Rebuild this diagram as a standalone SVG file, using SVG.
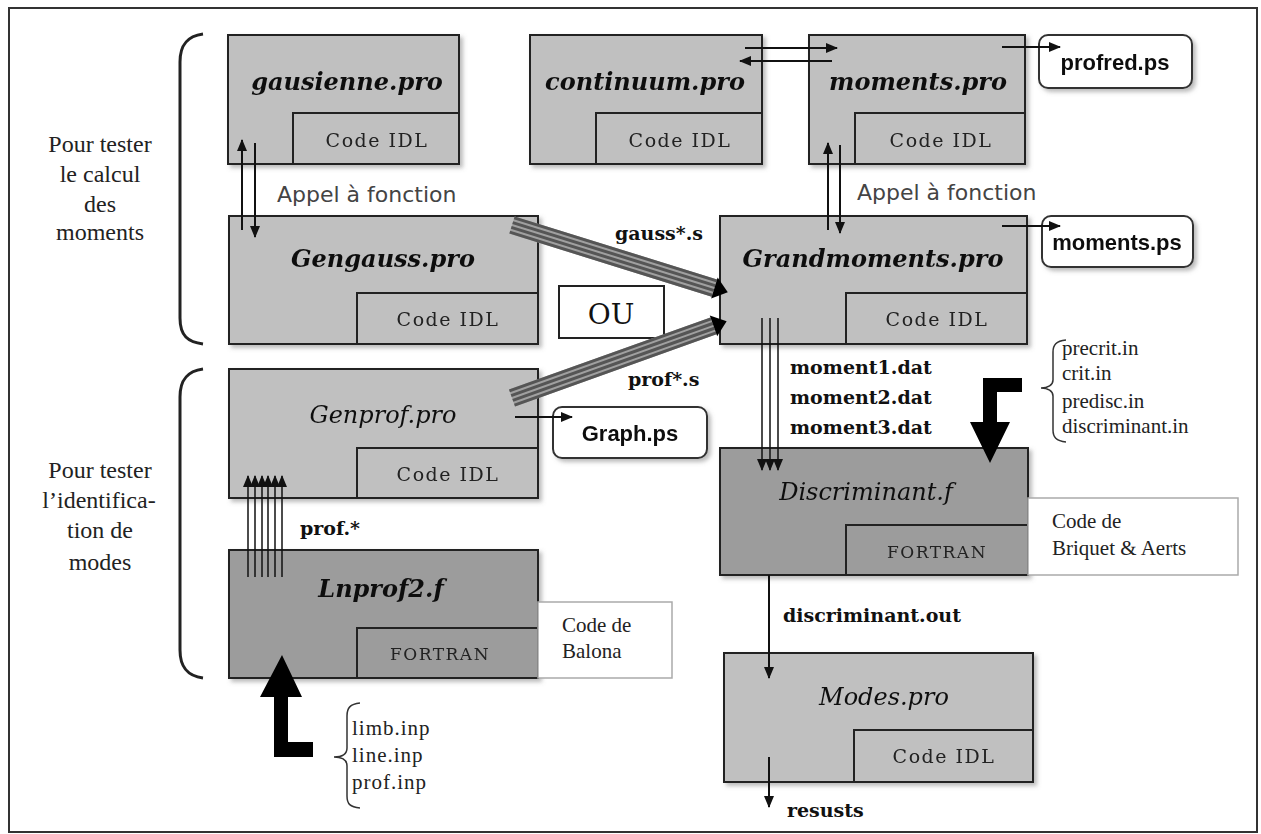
<svg xmlns="http://www.w3.org/2000/svg" width="1261" height="834" viewBox="0 0 1261 834">
<defs>
<filter id="sh" x="-10%" y="-10%" width="125%" height="130%">
<feDropShadow dx="3" dy="3" stdDeviation="2" flood-color="#777" flood-opacity="0.5"/>
</filter>
<marker id="ah" viewBox="0 0 12 10" refX="11" refY="5" markerWidth="12" markerHeight="10" markerUnits="userSpaceOnUse" orient="auto">
<path d="M0,0 L12,5 L0,10 Z" fill="#111"/>
</marker>
</defs>
<style>
.box{fill:#c0c0c0;stroke:#222;stroke-width:2}
.dark{fill:#9c9c9c}
.title{font-family:"DejaVu Serif",serif;font-weight:bold;font-style:italic;font-size:24px;text-anchor:middle;fill:#111}
.titlen{font-family:"DejaVu Serif",serif;font-style:italic;font-size:24px;text-anchor:middle;fill:#111}
.code{font-family:"DejaVu Serif",serif;font-size:19px;letter-spacing:1.5px;text-anchor:middle;fill:#222}
.fort{font-family:"DejaVu Serif",serif;font-size:17px;letter-spacing:1.5px;text-anchor:middle;fill:#222}
.out{font-family:"Liberation Sans",Arial,sans-serif;font-weight:bold;font-size:22px;text-anchor:middle;fill:#111}
.obox{fill:#fff;stroke:#333;stroke-width:2}
.lbl{font-family:"DejaVu Serif",serif;font-weight:bold;font-size:19px;fill:#111}
.note{font-family:"Liberation Serif",serif;font-size:21px;fill:#222}
.side{font-family:"Liberation Serif",serif;font-size:24px;text-anchor:middle;fill:#222}
.appel{font-family:"DejaVu Sans",sans-serif;font-size:22px;fill:#444}
.cbox{fill:#fff;stroke:#aaa;stroke-width:1.5}
.arr{stroke:#111;stroke-width:2;fill:none;marker-end:url(#ah)}
.thin{stroke:#111;stroke-width:1.5;fill:none;marker-end:url(#ah)}
.brace{fill:none;stroke:#222;stroke-width:3}
.sbrace{fill:none;stroke:#333;stroke-width:1.5}
</style>
<rect x="0" y="0" width="1261" height="834" fill="#fff"/>
<rect x="9" y="8" width="1248" height="824" fill="#fff" stroke="#333" stroke-width="2"/>

<g id="side-labels">
<path class="brace" d="M203,34 C188,36 180,44 180,62 V318 C180,336 188,342 203,344"/>
<path class="brace" d="M203,369 C188,371 180,379 180,397 V650 C180,668 188,676 203,678"/>
<text class="side" x="100" y="152">Pour tester</text>
<text class="side" x="100" y="182">le calcul</text>
<text class="side" x="100" y="212">des</text>
<text class="side" x="100" y="240">moments</text>
<text class="side" x="100" y="478">Pour tester</text>
<text class="side" x="99" y="508">l’identifica-</text>
<text class="side" x="100" y="538">tion de</text>
<text class="side" x="100" y="570">modes</text>
</g>

<g id="gausienne" filter="url(#sh)">
<rect class="box" x="228" y="35" width="231" height="129"/>
<rect class="box" x="293" y="113" width="166" height="51"/>
<text class="title" x="347" y="90">gausienne.pro</text>
<text class="code" x="377" y="147">Code IDL</text>
</g>

<g id="continuum" filter="url(#sh)">
<rect class="box" x="530" y="35" width="232" height="129"/>
<rect class="box" x="596" y="113" width="166" height="51"/>
<text class="title" x="645" y="90">continuum.pro</text>
<text class="code" x="680" y="147">Code IDL</text>
</g>

<g id="moments" filter="url(#sh)">
<rect class="box" x="809" y="35" width="216" height="129"/>
<rect class="box" x="855" y="113" width="170" height="51"/>
<text class="title" x="918" y="90">moments.pro</text>
<text class="code" x="941" y="147">Code IDL</text>
</g>

<g id="profred" filter="url(#sh)">
<rect class="obox" x="1039" y="35" width="153" height="53" rx="9"/>
<text class="out" x="1115" y="70">profred.ps</text>
</g>

<g id="gengauss" filter="url(#sh)">
<rect class="box" x="229" y="216" width="309" height="128"/>
<rect class="box" x="357" y="293" width="181" height="51"/>
<text class="title" x="383" y="267">Gengauss.pro</text>
<text class="code" x="448" y="326">Code IDL</text>
</g>

<g id="grandmoments" filter="url(#sh)">
<rect class="box" x="720" y="216" width="307" height="128"/>
<rect class="box" x="846" y="293" width="181" height="51"/>
<text class="title" x="873" y="267">Grandmoments.pro</text>
<text class="code" x="937" y="326">Code IDL</text>
</g>

<g id="momentsps" filter="url(#sh)">
<rect class="obox" x="1042" y="216" width="151" height="51" rx="9"/>
<text class="out" x="1117" y="250">moments.ps</text>
</g>

<g id="ou">
<rect x="559" y="286" width="105" height="52" fill="#fff" stroke="#222" stroke-width="2"/>
<text x="611" y="324" font-family="DejaVu Serif, serif" font-size="28" text-anchor="middle" fill="#111">OU</text>
</g>

<g id="genprof" filter="url(#sh)">
<rect class="box" x="229" y="369" width="309" height="129"/>
<rect class="box" x="357" y="448" width="181" height="50"/>
<text class="titlen" x="383" y="423">Genprof.pro</text>
<text class="code" x="448" y="481">Code IDL</text>
</g>

<g id="graphps" filter="url(#sh)">
<rect class="obox" x="553" y="407" width="154" height="51" rx="9"/>
<text class="out" x="630" y="441">Graph.ps</text>
</g>

<g id="lnprof2" filter="url(#sh)">
<rect class="box dark" x="229" y="550" width="309" height="128"/>
<rect class="box dark" x="357" y="628" width="181" height="50"/>
<text class="title" x="381" y="597">Lnprof2.f</text>
<text class="fort" x="440" y="660">FORTRAN</text>
</g>

<g id="balona">
<rect class="cbox" x="538" y="602" width="134" height="76"/>
<text class="note" x="562" y="632">Code de</text>
<text class="note" x="562" y="658">Balona</text>
</g>

<g id="limb-inputs">
<path d="M282,655 L302,697 L288,697 L288,742 L313,742 L313,757 L274,757 L274,697 L260,697 Z" fill="#000"/>
<path class="sbrace" d="M360,703 C350,704 347,708 347,716 V748 C347,754 342,757 334,757 C342,757 347,760 347,766 V796 C347,804 350,807 360,808"/>
<text class="note" x="352" y="735" letter-spacing="1">limb.inp</text>
<text class="note" x="352" y="762" letter-spacing="1">line.inp</text>
<text class="note" x="352" y="789" letter-spacing="1">prof.inp</text>
</g>

<g id="discriminant" filter="url(#sh)">
<rect class="box dark" x="720" y="448" width="308" height="127"/>
<rect class="box dark" x="846" y="525" width="182" height="50"/>
<text class="titlen" x="866" y="500">Discriminant.f</text>
<text class="fort" x="937" y="558">FORTRAN</text>
</g>

<g id="briquet">
<rect class="cbox" x="1028" y="498" width="210" height="77"/>
<text class="note" x="1052" y="528">Code de</text>
<text class="note" x="1052" y="555">Briquet &amp; Aerts</text>
</g>

<g id="disc-inputs">
<path d="M1022,378 L1022,392 L997,392 L997,422 L1010,422 L990,463 L970,422 L983,422 L983,378 Z" fill="#000"/>
<path class="sbrace" d="M1066,340 C1056,341 1053,345 1053,352 V380 C1053,385 1048,388 1041,388 C1048,388 1053,391 1053,396 V430 C1053,437 1056,441 1066,442"/>
<text class="note" x="1062" y="355">precrit.in</text>
<text class="note" x="1062" y="380">crit.in</text>
<text class="note" x="1062" y="408">predisc.in</text>
<text class="note" x="1062" y="433">discriminant.in</text>
</g>

<g id="modes" filter="url(#sh)">
<rect class="box" x="724" y="653" width="309" height="129"/>
<rect class="box" x="854" y="730" width="179" height="52"/>
<text class="titlen" x="884" y="705">Modes.pro</text>
<text class="code" x="944" y="763">Code IDL</text>
</g>

<g id="connectors">
<!-- gausienne <-> Gengauss -->
<line class="arr" x1="242" y1="230" x2="242" y2="140"/>
<line class="arr" x1="255" y1="143" x2="255" y2="237"/>
<text class="appel" x="277" y="202">Appel à fonction</text>
<!-- continuum <-> moments -->
<line class="arr" x1="745" y1="48" x2="837" y2="48"/>
<line class="arr" x1="832" y1="61" x2="740" y2="61"/>
<!-- moments <-> Grandmoments -->
<line class="arr" x1="828" y1="230" x2="828" y2="143"/>
<line class="arr" x1="840" y1="145" x2="840" y2="233"/>
<text class="appel" x="857" y="200">Appel à fonction</text>
<!-- outputs -->
<line class="arr" x1="1002" y1="47" x2="1060" y2="47"/>
<line class="arr" x1="1002" y1="226" x2="1060" y2="226"/>
<line class="arr" x1="515" y1="417" x2="572" y2="417"/>
<!-- striped arrows -->
<g transform="translate(512,225) rotate(17.3)">
<rect x="0" y="-9" width="212" height="18" fill="#a0a0a0"/>
<rect x="0" y="-9" width="212" height="3" fill="#555"/>
<rect x="0" y="-4" width="212" height="3" fill="#555"/>
<rect x="0" y="1" width="212" height="3" fill="#555"/>
<rect x="0" y="6" width="212" height="3" fill="#555"/>
<path d="M212,-11 L226,0 L212,11 Z" fill="#000"/>
</g>
<g transform="translate(512,398) rotate(-19.7)">
<rect x="0" y="-9" width="214" height="18" fill="#a0a0a0"/>
<rect x="0" y="-9" width="214" height="3" fill="#555"/>
<rect x="0" y="-4" width="214" height="3" fill="#555"/>
<rect x="0" y="1" width="214" height="3" fill="#555"/>
<rect x="0" y="6" width="214" height="3" fill="#555"/>
<path d="M214,-11 L228,0 L214,11 Z" fill="#000"/>
</g>
<text class="lbl" x="615" y="240">gauss*.s</text>
<text class="lbl" x="628" y="386">prof*.s</text>
<!-- Grandmoments -> Discriminant -->
<line class="thin" x1="762" y1="318" x2="762" y2="470"/>
<line class="thin" x1="770" y1="318" x2="770" y2="470"/>
<line class="thin" x1="778" y1="318" x2="778" y2="470"/>
<text class="lbl" x="790" y="374">moment1.dat</text>
<text class="lbl" x="790" y="404">moment2.dat</text>
<text class="lbl" x="790" y="434">moment3.dat</text>
<!-- Lnprof2 -> Genprof -->
<line class="thin" x1="248" y1="577" x2="248" y2="476"/>
<line class="thin" x1="255" y1="577" x2="255" y2="476"/>
<line class="thin" x1="262" y1="577" x2="262" y2="476"/>
<line class="thin" x1="268" y1="577" x2="268" y2="476"/>
<line class="thin" x1="275" y1="577" x2="275" y2="476"/>
<line class="thin" x1="282" y1="577" x2="282" y2="476"/>
<text class="lbl" x="300" y="535">prof.*</text>
<!-- Discriminant -> Modes -> results -->
<line class="arr" x1="769" y1="575" x2="769" y2="678"/>
<text class="lbl" x="783" y="622">discriminant.out</text>
<line class="arr" x1="769" y1="757" x2="769" y2="807"/>
<text class="lbl" x="787" y="817">resusts</text>
</g>
</svg>
